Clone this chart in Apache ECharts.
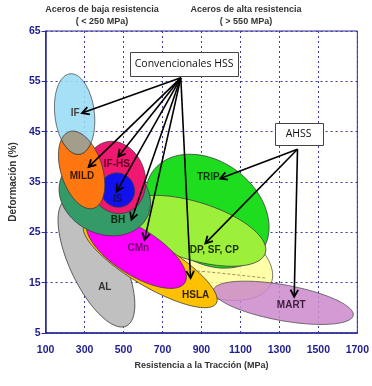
<!DOCTYPE html>
<html><head><meta charset="utf-8">
<script src="https://cdn.jsdelivr.net/npm/echarts@6/dist/echarts.min.js"></script>
<style>html,body{margin:0;padding:0;background:#fff}#c{width:372px;height:386px}</style>
</head><body><div id="c"></div>
<script>
// Axis ranges / ticks
const xMin = 100, xMax = 1700, xStep = 200;
const yMin = 5, yMax = 65, yStep = 10;

// Steel regions (ellipses): centre (MPa, %), half-diameter u and conjugate half-diameter v (MPa, %)
const regionNames = ['Base', 'TRIP', 'DP', 'MART', 'AL', 'HSLA', 'CMn', 'BH', 'IF-HS', 'IS', 'MILD', 'IF'];
const centerX = [920, 930, 860, 1320, 361, 637, 566, 404, 459, 470, 285, 249];
const centerY = [20.3, 29.2, 25.3, 11.0, 19.0, 18.7, 21.1, 32.2, 35.9, 33.4, 37.4, 48.5];
const uX = [338, 282, 368, 359, 154, 339, 249, 220, -62, -12, -63, -23];
const uY = [-5.4, -7.8, -4.4, -2.5, -12.6, -7.8, -6.1, -4.0, 6.9, 3.4, 7.6, 8.0];
const vX = [-72, -145, -43, -16, -123, -56, -62, -82, 142, 86, 101, 101];
const vY = [-7.0, -8.2, -5.5, -3.5, -2.3, -3.8, -3.9, -6.8, 2.0, 0.3, 1.3, 0.4];
const fillColors = ['#ffff99', '#1edd1e', '#9cf03a', '#cc88cc', '#c0c0c0', '#ffc000', '#ff00ff', '#349a68', '#f01870', '#1111ee', '#ff7711', '#9adcf5'];

// Overlap of IF and MILD (indices into regions)
const overlapPair = [11, 10];

// Dashed boundary through the base region
const dashX = [828, 996, 1233];
const dashY = [17.5, 16.9, 15.9];

// Region labels
const labelTexts = ['IF', 'MILD', 'IF-HS', 'IS', 'BH', 'TRIP', 'DP, SF, CP', 'CMn', 'AL', 'HSLA', 'MART'];
const labelX = [252, 287, 466, 470, 472, 935, 966, 576, 404, 870, 1361];
const labelY = [48.7, 36.2, 38.5, 31.5, 27.4, 36.0, 21.5, 21.9, 14.1, 12.5, 10.6];
const labelColors = ['#444444', '#3a1800', '#5a0020', '#10105a', '#0a2a10', '#0a3a0a', '#223300', '#660066', '#333333', '#332200', '#402040'];

// Arrows
const arrowStartX = [794, 794, 794, 794, 794, 794, 794, 1393, 1393, 1393];
const arrowStartY = [55.7, 55.7, 55.7, 55.7, 55.7, 55.7, 55.7, 41.5, 41.5, 41.5];
const arrowEndX = [287, 321, 473, 465, 541, 608, 844, 996, 920, 1376];
const arrowEndY = [48.7, 38.0, 40.0, 33.1, 27.5, 23.5, 15.9, 35.7, 22.8, 12.2];

// Annotation boxes
const boxTexts = ['Convencionales HSS', 'AHSS'];
const boxX = [811, 1399];
const boxY = [58.4, 44.5];
const boxW = [108, 48];
const boxH = [24, 22];

const chart = echarts.init(document.getElementById('c'));

function ellipsePixels(api, i, n) {
  const pts = [];
  for (let k = 0; k < n; k++) {
    const t = 2 * Math.PI * k / n, c = Math.cos(t), s = Math.sin(t);
    pts.push(api.coord([centerX[i] + c * uX[i] + s * vX[i], centerY[i] + c * uY[i] + s * vY[i]]));
  }
  return pts;
}
function clipPoly(subject, clip) {
  let area = 0;
  for (let i = 0; i < clip.length; i++) { const a = clip[i], b = clip[(i + 1) % clip.length]; area += a[0] * b[1] - b[0] * a[1]; }
  const sgn = area > 0 ? 1 : -1;
  let out = subject;
  for (let i = 0; i < clip.length; i++) {
    const A = clip[i], B = clip[(i + 1) % clip.length];
    const f = p => sgn * ((B[0] - A[0]) * (p[1] - A[1]) - (B[1] - A[1]) * (p[0] - A[0]));
    const input = out; out = [];
    for (let j = 0; j < input.length; j++) {
      const P = input[j], Q = input[(j + 1) % input.length];
      const fp = f(P), fq = f(Q);
      const inter = () => { const t = fp / (fp - fq); return [P[0] + t * (Q[0] - P[0]), P[1] + t * (Q[1] - P[1])]; };
      if (fp >= 0) { out.push(P); if (fq < 0) out.push(inter()); }
      else if (fq >= 0) out.push(inter());
    }
    if (!out.length) break;
  }
  return out;
}

const navy = '#2a2a9a';
const option = {
  animation: false,
  grid: { left: 43, right: 13, top: 31, bottom: 53, show: true, borderColor: navy, borderWidth: 1, backgroundColor: 'transparent' },
  xAxis: {
    type: 'value', min: xMin, max: xMax, interval: xStep,
    name: 'Resistencia a la Tracción (MPa)', nameLocation: 'middle', nameGap: 28,
    nameTextStyle: { fontFamily: 'Liberation Sans', fontWeight: 'bold', fontSize: 9, color: '#333' },
    axisLine: { lineStyle: { color: navy, width: 1.5 } },
    axisTick: { show: false },
    axisLabel: { margin: 12, formatter: v => String(v), fontFamily: 'Liberation Sans', fontWeight: 'bold', fontSize: 10.5, color: '#1c1c8c' },
    splitLine: { lineStyle: { color: '#3a3aa0', type: [2, 3], width: 1 } }
  },
  yAxis: {
    type: 'value', min: yMin, max: yMax, interval: yStep,
    name: 'Deformación (%)', nameLocation: 'middle', nameGap: 26,
    nameTextStyle: { fontFamily: 'Liberation Sans', fontWeight: 'bold', fontSize: 10, color: '#333' },
    axisLine: { show: true, lineStyle: { color: navy, width: 1.5 } },
    axisTick: { show: true, length: 4, lineStyle: { color: navy } },
    axisLabel: { margin: 5, fontFamily: 'Liberation Sans', fontWeight: 'bold', fontSize: 10.5, color: '#1c1c8c' },
    splitLine: { lineStyle: { color: '#3a3aa0', type: [2, 3], width: 1 } }
  },
  graphic: [
    { type: 'text', x: 102, y: 10, style: { text: 'Aceros de baja resistencia', font: 'bold 9px "Liberation Sans"', fill: '#333', align: 'center', verticalAlign: 'middle' } },
    { type: 'text', x: 102, y: 22, style: { text: '( < 250 MPa)', font: 'bold 9px "Liberation Sans"', fill: '#333', align: 'center', verticalAlign: 'middle' } },
    { type: 'text', x: 246, y: 10, style: { text: 'Aceros de alta resistencia', font: 'bold 9px "Liberation Sans"', fill: '#333', align: 'center', verticalAlign: 'middle' } },
    { type: 'text', x: 246, y: 22, style: { text: '( > 550 MPa)', font: 'bold 9px "Liberation Sans"', fill: '#333', align: 'center', verticalAlign: 'middle' } }
  ],
  series: [
    {
      type: 'custom', coordinateSystem: 'cartesian2d', silent: true,
      data: regionNames.map((n, i) => ({ name: n, value: [centerX[i], centerY[i]] })),
      renderItem: (params, api) => {
        const i = params.dataIndex;
        const op = (regionNames[i] === 'Base' || regionNames[i] === 'MART') ? 0.85 : (regionNames[i] === 'IF' ? 0.88 : 1);
        return { type: 'polygon', shape: { points: ellipsePixels(api, i, 90) },
          style: { fill: fillColors[i], opacity: op, stroke: '#3a3a3a', lineWidth: 0.8 } };
      }
    },
    {
      type: 'custom', coordinateSystem: 'cartesian2d', silent: true,
      data: [{ value: [centerX[overlapPair[0]], centerY[overlapPair[0]]] }],
      renderItem: (params, api) => {
        const pts = clipPoly(ellipsePixels(api, overlapPair[0], 120), ellipsePixels(api, overlapPair[1], 120));
        return { type: 'polygon', shape: { points: pts }, style: { fill: '#a39e8a', stroke: '#3a3a3a', lineWidth: 0.8 } };
      }
    },
    {
      type: 'line', data: dashX.map((x, i) => [x, dashY[i]]), smooth: true, symbol: 'none', silent: true,
      lineStyle: { color: '#a09060', width: 1, type: [3, 2] }
    },
    {
      type: 'custom', coordinateSystem: 'cartesian2d', silent: true,
      data: labelTexts.map((t, i) => [labelX[i], labelY[i]]),
      renderItem: (params, api) => {
        const i = params.dataIndex;
        const p = api.coord([api.value(0), api.value(1)]);
        return { type: 'text', x: p[0], y: p[1], style: { text: labelTexts[i], font: 'bold 10px "Liberation Sans"', fill: labelColors[i], align: 'center', verticalAlign: 'middle' } };
      }
    },
    {
      type: 'custom', coordinateSystem: 'cartesian2d', silent: true,
      data: arrowStartX.map((x, i) => [x, arrowStartY[i], arrowEndX[i], arrowEndY[i]]),
      renderItem: (params, api) => {
        const p1 = api.coord([api.value(0), api.value(1)]);
        const p2 = api.coord([api.value(2), api.value(3)]);
        const a = Math.atan2(p2[1] - p1[1], p2[0] - p1[0]);
        const L = 8, w = 0.5;
        const h1 = [p2[0] - L * Math.cos(a - w), p2[1] - L * Math.sin(a - w)];
        const h2 = [p2[0] - L * Math.cos(a + w), p2[1] - L * Math.sin(a + w)];
        return { type: 'group', children: [
          { type: 'line', shape: { x1: p1[0], y1: p1[1], x2: p2[0], y2: p2[1] }, style: { stroke: '#000', lineWidth: 1.6 } },
          { type: 'polyline', shape: { points: [h1, p2, h2] }, style: { stroke: '#000', lineWidth: 1.8, fill: null } }
        ] };
      }
    },
    {
      type: 'custom', coordinateSystem: 'cartesian2d', silent: true,
      data: boxTexts.map((t, i) => [boxX[i], boxY[i]]),
      renderItem: (params, api) => {
        const i = params.dataIndex;
        const p = api.coord([api.value(0), api.value(1)]);
        return { type: 'group', children: [
          { type: 'rect', shape: { x: Math.round(p[0] - boxW[i] / 2) + 0.5, y: Math.round(p[1] - boxH[i] / 2) + 0.5, width: boxW[i], height: boxH[i] },
            style: { fill: '#fff', stroke: '#444', lineWidth: 1 } },
          { type: 'text', x: p[0], y: p[1], style: { text: boxTexts[i], font: '10.5px "Open Sans"', fill: '#111', align: 'center', verticalAlign: 'middle' } }
        ] };
      }
    }
  ]
};
chart.setOption(option);
</script>
</body></html>
